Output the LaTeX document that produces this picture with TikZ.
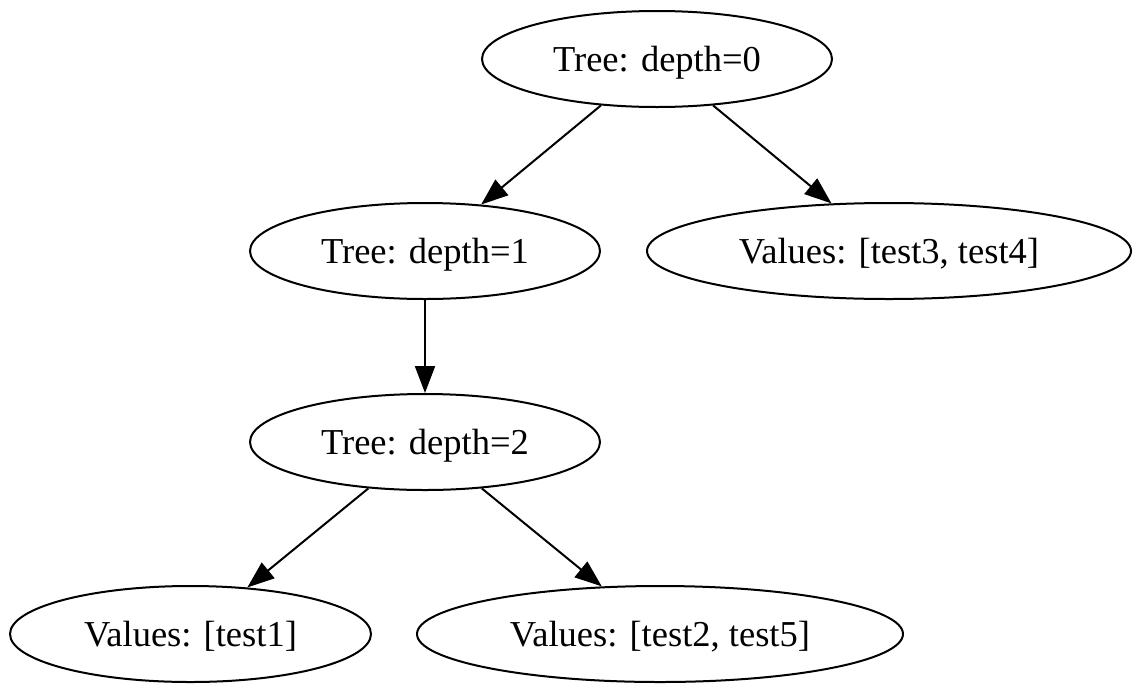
\documentclass[tikz,border=0pt]{standalone}
\usepackage{fontspec}
\setmainfont{Liberation Serif}
\usetikzlibrary{shapes.geometric,arrows.meta}
\begin{document}
\begin{tikzpicture}[x=1pt,y=-1pt,
  tnode/.style={draw,ellipse,line width=2pt,inner sep=0pt,minimum height=96pt,
    text height=24pt,text depth=0pt,
    font=\fontsize{36.5}{40}\selectfont},
  edge/.style={line width=2pt,-{Triangle[length=27pt,width=20pt]}}]
\useasboundingbox (0,0) rectangle (1142,694);
\node[tnode,minimum width=350pt] (r) at (657,59) {Tree: depth=0};
\node[tnode,minimum width=350pt] (d1) at (425,251) {Tree: depth=1};
\node[tnode,minimum width=484pt] (v34) at (889,251) {Values: [test3, test4]};
\node[tnode,minimum width=350pt] (d2) at (425,442) {Tree: depth=2};
\node[tnode,minimum width=361pt] (v1) at (190.5,634) {Values: [test1]};
\node[tnode,minimum width=486pt] (v25) at (660,634) {Values: [test2, test5]};
\draw[edge] (r) -- (d1);
\draw[edge] (r) -- (v34);
\draw[edge] (d1) -- (d2);
\draw[edge] (d2) -- (v1);
\draw[edge] (d2) -- (v25);
\end{tikzpicture}
\end{document}
